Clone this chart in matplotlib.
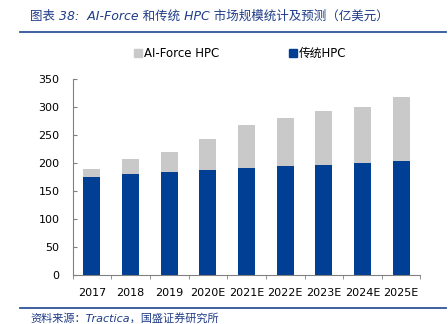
import matplotlib
matplotlib.use("Agg")
import matplotlib.pyplot as plt
import numpy as np
from matplotlib.lines import Line2D

plt.rcParams['font.family'] = ['DejaVu Sans', 'Noto Sans CJK SC']

years = ["2017", "2018", "2019", "2020E", "2021E", "2022E", "2023E", "2024E", "2025E"]
traditional_hpc = [175, 180, 184, 187, 190, 194, 196, 200, 203]
ai_force_hpc = [14, 27, 36, 56, 78, 86, 97, 99, 114]
yticks = [0, 50, 100, 150, 200, 250, 300, 350]

title = "图表 38:  AI-Force 和传统 HPC 市场规模统计及预测（亿美元）"
source = "资料来源：Tractica，国盛证券研究所"

blue = "#003F94"
gray = "#C9C9C9"
axis_gray = "#808080"
title_blue = "#1F3C88"

fig = plt.figure(figsize=(4.48, 3.24), dpi=100)
ax = fig.add_axes([0.162, 0.151, 0.7766, 0.606])

x = np.arange(len(years))
w = 0.44
ax.bar(x, traditional_hpc, width=w, color=blue, label="传统HPC", zorder=2)
ax.bar(x, ai_force_hpc, width=w, bottom=traditional_hpc, color=gray,
       label="AI-Force HPC", zorder=2)

ax.set_xlim(-0.5, len(years) - 0.5)
ax.set_ylim(0, 350)
ax.set_yticks(yticks)
ax.set_xticks(x)
ax.set_xticklabels(years)
ax.set_xticks(np.arange(len(years) + 1) - 0.5, minor=True)
ax.tick_params(axis='x', which='major', length=0, labelsize=8, pad=9.5, colors='black')
ax.tick_params(axis='x', which='minor', length=3, direction='out', color=axis_gray)
ax.tick_params(axis='y', length=3, direction='in', color=axis_gray, labelsize=8,
               pad=9.5)
for lbl in ax.get_yticklabels():
    lbl.set_color('black')

for s in ['top', 'right']:
    ax.spines[s].set_visible(False)
for s in ['left', 'bottom']:
    ax.spines[s].set_color(axis_gray)
    ax.spines[s].set_linewidth(0.8)

# legend
handles = [
    Line2D([], [], marker='s', linestyle='none', markersize=6, color=gray),
    Line2D([], [], marker='s', linestyle='none', markersize=6, color=blue),
]
fig.legend(handles, ["AI-Force HPC", "传统HPC"], loc='center', ncol=2,
           bbox_to_anchor=(0.535, 0.836), frameon=False, fontsize=8.5,
           handletextpad=0.1, columnspacing=5.8, handlelength=0.8)

# title and lines
fig.text(0.067, 0.951, title, fontsize=9, color=title_blue, style='italic',
         va='center', ha='left', family=['DejaVu Sans', 'Noto Sans CJK SC'])
fig.add_artist(Line2D([0.045, 0.995], [0.900, 0.900], color="#2E5597", lw=1.3,
                      transform=fig.transFigure))
fig.add_artist(Line2D([0.045, 0.995], [0.049, 0.049], color="#2E5597", lw=1.3,
                      transform=fig.transFigure))
fig.text(0.067, 0.018, source, fontsize=8, color=title_blue, style='italic',
         va='center', ha='left', family=['DejaVu Sans', 'Noto Sans CJK SC'])

fig.savefig("out.png", dpi=100)
